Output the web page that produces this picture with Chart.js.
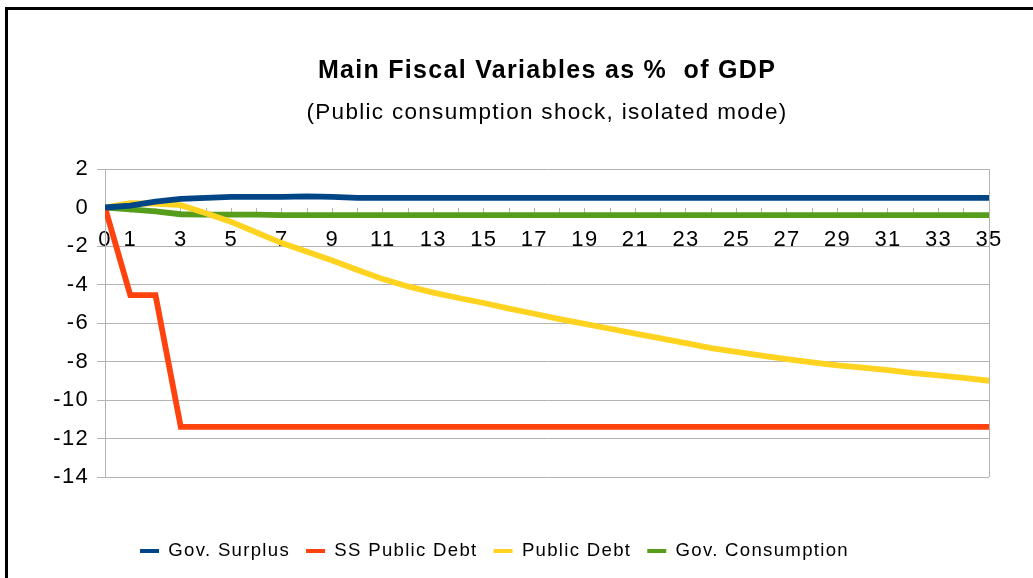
<!DOCTYPE html>
<html>
<head>
<meta charset="utf-8">
<script src="https://cdn.jsdelivr.net/npm/chart.js@4.4.1/dist/chart.umd.min.js"></script>
<style>
html,body{margin:0;padding:0;background:#fff;overflow:hidden;width:1033px;height:578px;}
#frame{position:absolute;left:5px;top:7px;width:2000px;height:2000px;border-left:3px solid #000;border-top:3px solid #000;}
#c{position:absolute;left:0;top:0;}
</style>
</head>
<body>
<div id="frame"></div>
<canvas id="c" width="1033" height="578"></canvas>
<script>
const periods = [0,1,2,3,4,5,6,7,8,9,10,11,12,13,14,15,16,17,18,19,20,21,22,23,24,25,26,27,28,29,30,31,32,33,34,35];
const govSurplus = [0,0.1,0.3,0.45,0.5,0.55,0.55,0.55,0.58,0.55,0.5,0.5,0.5,0.5,0.5,0.5,0.5,0.5,0.5,0.5,0.5,0.5,0.5,0.5,0.5,0.5,0.5,0.5,0.5,0.5,0.5,0.5,0.5,0.5,0.5,0.5];
const ssPublicDebt = [0,-4.55,-4.55,-11.4,-11.4,-11.4,-11.4,-11.4,-11.4,-11.4,-11.4,-11.4,-11.4,-11.4,-11.4,-11.4,-11.4,-11.4,-11.4,-11.4,-11.4,-11.4,-11.4,-11.4,-11.4,-11.4,-11.4,-11.4,-11.4,-11.4,-11.4,-11.4,-11.4,-11.4,-11.4,-11.4];
const publicDebt = [0,0.22,0.2,0.12,-0.3,-0.75,-1.3,-1.85,-2.3,-2.75,-3.25,-3.72,-4.1,-4.42,-4.7,-4.96,-5.25,-5.52,-5.8,-6.05,-6.3,-6.55,-6.8,-7.05,-7.3,-7.5,-7.7,-7.88,-8.05,-8.2,-8.32,-8.45,-8.6,-8.72,-8.85,-9.0];
const govConsumption = [0,-0.1,-0.2,-0.35,-0.37,-0.37,-0.37,-0.4,-0.4,-0.4,-0.4,-0.4,-0.4,-0.4,-0.4,-0.4,-0.4,-0.4,-0.4,-0.4,-0.4,-0.4,-0.4,-0.4,-0.4,-0.4,-0.4,-0.4,-0.4,-0.4,-0.4,-0.4,-0.4,-0.4,-0.4,-0.4];
const yTickValues = [2,0,-2,-4,-6,-8,-10,-12,-14];
const xLabelled = [0,1,3,5,7,9,11,13,15,17,19,21,23,25,27,29,31,33,35];

const FONT = "'Liberation Sans', Arial, sans-serif";
const LS = '1.3px';
const spacingPlugin = {
  id: 'spacing',
  beforeUpdate(c){ c.ctx.letterSpacing = LS; },
  beforeDraw(c){ c.ctx.letterSpacing = LS; }
};

new Chart(document.getElementById('c'), {
  type: 'line',
  data: {
    labels: periods,
    datasets: [
      {label:'Gov. Surplus', data: govSurplus, borderColor:'#004586', backgroundColor:'#004586'},
      {label:'SS Public Debt', data: ssPublicDebt, borderColor:'#ff420e', backgroundColor:'#ff420e'},
      {label:'Public Debt', data: publicDebt, borderColor:'#ffd320', backgroundColor:'#ffd320'},
      {label:'Gov. Consumption', data: govConsumption, borderColor:'#579d1c', backgroundColor:'#579d1c'}
    ]
  },
  plugins: [spacingPlugin],
  options: {
    responsive: false,
    animation: false,
    devicePixelRatio: 1,
    elements: {
      line: {borderWidth: 5.8, tension: 0, borderCapStyle: 'butt', borderJoinStyle: 'miter', fill: false},
      point: {radius: 0, hoverRadius: 0}
    },
    layout: {padding: {left: 0, right: 44, top: 0, bottom: 7.7}},
    plugins: {
      title: {display: true, text: 'Main Fiscal Variables as %  of GDP', color: '#000', fullSize: false,
              font: {family: FONT, size: 25, weight: 'bold'}, padding: {top: 56, bottom: 6}},
      subtitle: {display: true, text: '(Public consumption shock, isolated mode)', color: '#000', fullSize: false,
              font: {family: FONT, size: 22.5, weight: 'normal'}, padding: {top: 7.5, bottom: 42.5}},
      legend: {position: 'bottom',
        labels: {color: '#000', font: {family: FONT, size: 18.6}, boxWidth: 19, boxHeight: 4, padding: 16,
          generateLabels: (chart) => Chart.defaults.plugins.legend.labels.generateLabels(chart)
             .map(l => Object.assign(l, {fillStyle: l.strokeStyle, lineWidth: 0}))}},
      tooltip: {enabled: false}
    },
    scales: {
      x: {type: 'linear', position: {y: 0}, min: 0, max: 35,
          afterBuildTicks: (s) => { s.ticks = periods.map(v => ({value: v})); },
          ticks: {autoSkip: false, maxRotation: 0, minRotation: 0, padding: 14, color: '#000',
                  font: {family: FONT, size: 22},
                  callback: (v) => xLabelled.includes(v) ? String(v) : ''},
          grid: {drawOnChartArea: true, tickLength: 5, lineWidth: 1, tickColor: '#b3b3b3',
                 color: (c) => (c.tick && c.tick.value === 35) ? '#b3b3b3' : 'rgba(0,0,0,0)'},
          border: {display: false}},
      x2: {type: 'linear', position: 'bottom', min: 0, max: 35, display: true,
           ticks: {display: false}, grid: {display: false}, border: {display: false},
           afterFit: (s) => { s.height = 48.7; }},
      y: {type: 'linear', position: 'left', min: -14, max: 2,
          afterBuildTicks: (s) => { s.ticks = yTickValues.map(v => ({value: v})); },
          afterFit: (s) => { s.width = 105; },
          ticks: {color: '#000', font: {family: FONT, size: 22}, padding: 8},
          grid: {tickLength: 8, lineWidth: 1,
                 color: (c) => (c.tick && c.tick.value === 0) ? 'rgba(0,0,0,0)' : '#b3b3b3'},
          border: {display: true, color: '#b3b3b3', width: 1}}
    }
  }
});
</script>
</body>
</html>
